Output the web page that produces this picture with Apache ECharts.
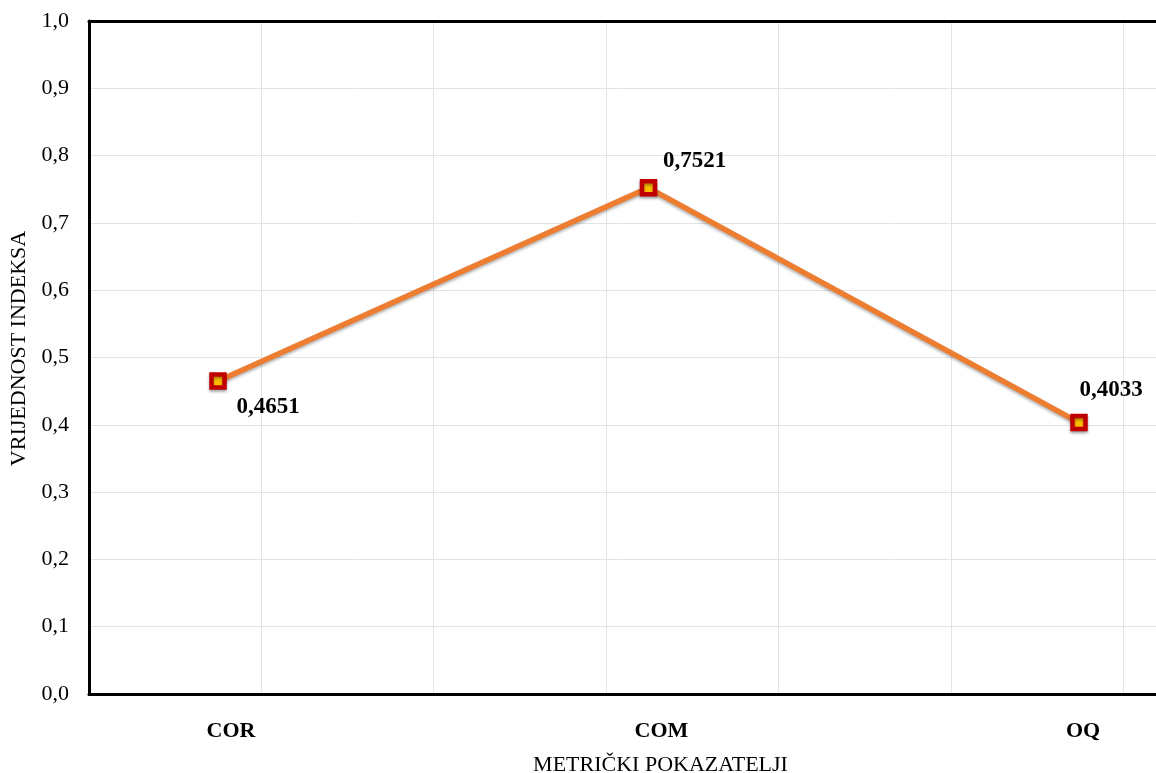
<!DOCTYPE html>
<html>
<head>
<meta charset="utf-8">
<script src="https://cdn.jsdelivr.net/npm/echarts@6/dist/echarts.min.js"></script>
<style>html,body{margin:0;padding:0;background:#fff}#c{width:1156px;height:773px}</style>
</head>
<body>
<div id="c"></div>
<script>
const categories = ['COR', 'COM', 'OQ'];
const values = [0.4651, 0.7521, 0.4033];
const yTicks = [0, 0.1, 0.2, 0.3, 0.4, 0.5, 0.6, 0.7, 0.8, 0.9, 1.0];
const xAxisName = 'METRIČKI POKAZATELJI';
const yAxisName = 'VRIJEDNOST INDEKSA';

const serif = '"Liberation Serif", "DejaVu Serif", serif';
const labelOffsets = [[50, 26], [46, -27], [32, -33]];
const catPad = [26, 26, 8];

const chart = echarts.init(document.getElementById('c'));
const fmt = v => v.toFixed(1).replace('.', ',');
const fmt4 = v => v.toFixed(4).replace('.', ',');
const catRich = {};
catPad.forEach((p, i) => {
  catRich['c' + i] = { fontFamily: serif, fontWeight: 'bold', fontSize: 22, color: '#000', padding: [0, 0, 0, p] };
});

chart.setOption({
  animation: false,
  backgroundColor: '#fff',
  grid: [
    { left: 89, right: 0, top: 21, bottom: 79, outerBoundsMode: 'none', containLabel: false },
    { left: 218, right: 77, top: 21, bottom: 79, outerBoundsMode: 'none', containLabel: false }
  ],
  xAxis: [
    { type: 'value', gridIndex: 0, min: 0, max: 6.19, interval: 1, position: 'bottom',
      axisLine: { show: true, lineStyle: { color: '#000', width: 3 } },
      axisTick: { show: false }, axisLabel: { show: false },
      splitLine: { show: true, lineStyle: { color: '#e3e3e3', width: 1 } } },
    { type: 'value', gridIndex: 0, min: 0, max: 6.19, interval: 1, position: 'top',
      axisLine: { show: true, onZero: false, lineStyle: { color: '#000', width: 3 } },
      axisTick: { show: false }, axisLabel: { show: false }, splitLine: { show: false } },
    { type: 'category', gridIndex: 1, data: categories, boundaryGap: false,
      axisLine: { show: false }, axisTick: { show: false },
      axisLabel: { margin: 26, color: '#000',
        formatter: (v, i) => '{c' + i + '|' + v + '}',
        rich: catRich },
      splitLine: { show: false },
      name: xAxisName, nameLocation: 'middle', nameGap: 60,
      nameTextStyle: { fontFamily: serif, fontSize: 22, color: '#000', padding: [0, 0, 0, 24] } }
  ],
  yAxis: [
    { type: 'value', gridIndex: 0, min: 0, max: 1, interval: 0.1,
      axisLine: { show: true, lineStyle: { color: '#000', width: 3 } },
      axisTick: { show: false },
      axisLabel: { formatter: fmt, fontFamily: serif, fontSize: 22, color: '#000', margin: 20 },
      splitLine: { show: true, lineStyle: { color: '#e3e3e3', width: 1 } },
      name: yAxisName, nameLocation: 'middle', nameGap: 59,
      nameTextStyle: { fontFamily: serif, fontSize: 22, color: '#000', padding: [0, 0, 0, 18] } },
    { type: 'value', gridIndex: 1, min: 0, max: 1, interval: 0.1, show: false }
  ],
  series: [{
    type: 'line', xAxisIndex: 2, yAxisIndex: 1,
    data: values.map((v, i) => ({
      value: v,
      label: { show: true, formatter: () => fmt4(v), position: 'inside', offset: labelOffsets[i],
        fontFamily: serif, fontWeight: 'bold', fontSize: 23, color: '#000' }
    })),
    lineStyle: { color: '#ED7D31', width: 5.5, shadowColor: 'rgba(0,0,0,0.3)', shadowBlur: 3, shadowOffsetY: 2 },
    symbol: 'rect', symbolSize: 13,
    itemStyle: { color: '#FFC000', borderColor: '#C00000', borderWidth: 4.5,
      shadowColor: 'rgba(0,0,0,0.35)', shadowBlur: 3, shadowOffsetY: 2 },
    z: 5
  }]
});
</script>
</body>
</html>
